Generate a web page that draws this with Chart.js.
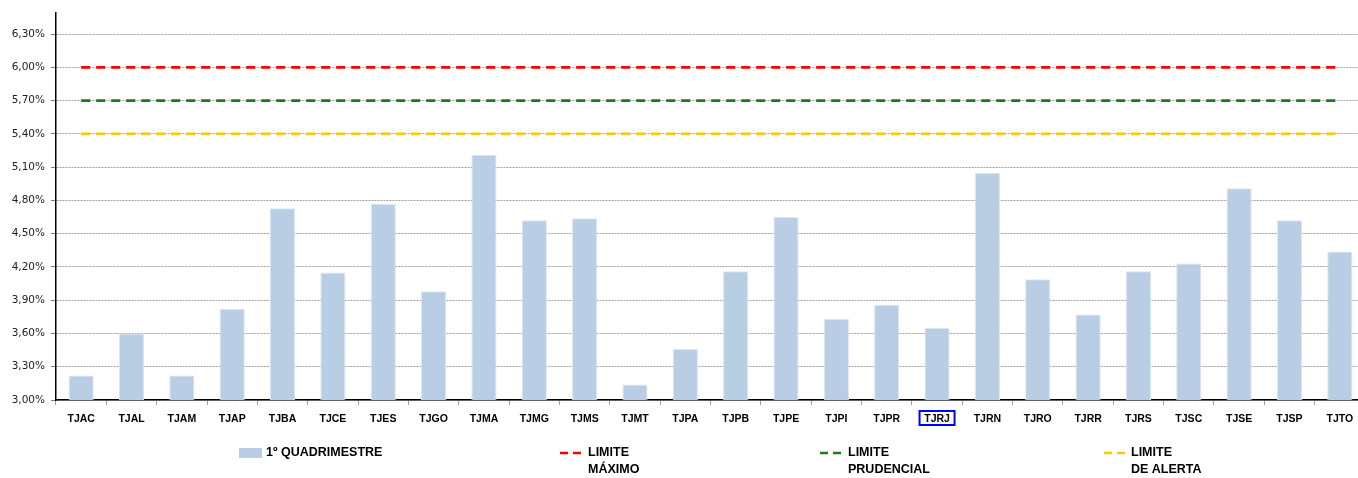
<!DOCTYPE html>
<html>
<head>
<meta charset="utf-8">
<script src="https://cdn.jsdelivr.net/npm/chart.js@4.4.1/dist/chart.umd.min.js"></script>
<style>
  html, body { margin: 0; padding: 0; background: #fff; overflow: hidden; }
  #wrap { position: relative; width: 1366px; height: 478px; }
</style>
</head>
<body>
<div id="wrap"><canvas id="c"></canvas></div>
<script>
const categories = ['TJAC','TJAL','TJAM','TJAP','TJBA','TJCE','TJES','TJGO','TJMA','TJMG','TJMS','TJMT','TJPA','TJPB','TJPE','TJPI','TJPR','TJRJ','TJRN','TJRO','TJRR','TJRS','TJSC','TJSE','TJSP','TJTO'];
const quadrimestre1 = [3.22,3.60,3.22,3.82,4.73,4.15,4.77,3.98,5.21,4.62,4.64,3.14,3.46,4.16,4.65,3.73,3.86,3.65,5.05,4.09,3.77,4.16,4.23,4.91,4.62,4.34];
const limiteMaximo = 6.00;
const limitePrudencial = 5.70;
const limiteAlerta = 5.40;
const yTicks = [3.00,3.30,3.60,3.90,4.20,4.50,4.80,5.10,5.40,5.70,6.00,6.30];
const yMin = 3.00, yMax = 6.49;
const highlighted = 'TJRJ';

const first = categories[0], last = categories[categories.length - 1];

const legendPlugin = {
  id: 'customLegend',
  afterDraw(chart) {
    const ctx = chart.ctx;
    const ds = chart.data.datasets;
    const y = 453;
    const items = [
      { sw: 239, tx: 266 },
      { sw: 560, tx: 588 },
      { sw: 820, tx: 848 },
      { sw: 1104, tx: 1131 }
    ];
    ctx.save();
    ctx.font = 'bold 12.5px "Liberation Sans", Arial, sans-serif';
    ctx.fillStyle = '#000';
    ctx.textBaseline = 'middle';
    ds.forEach((d, i) => {
      const it = items[i];
      if (d.type === 'bar') {
        ctx.fillStyle = d.backgroundColor;
        ctx.fillRect(it.sw, y - 5, 23, 10);
      } else {
        ctx.strokeStyle = d.borderColor;
        ctx.lineWidth = 2.5;
        ctx.setLineDash([8, 5]);
        ctx.beginPath();
        ctx.moveTo(it.sw, y);
        ctx.lineTo(it.sw + 25, y);
        ctx.stroke();
        ctx.setLineDash([]);
      }
      ctx.fillStyle = '#000';
      const lines = Array.isArray(d.label) ? d.label : [d.label];
      lines.forEach((t, k) => ctx.fillText(t, it.tx, y + k * 17));
    });
    // highlighted category box
    const xs = chart.scales.x;
    const idx = categories.indexOf(highlighted);
    if (idx >= 0) {
      const cx = xs.getPixelForValue(idx);
      ctx.strokeStyle = '#0000FF';
      ctx.lineWidth = 2;
      ctx.strokeRect(cx - 17.5, 411, 35, 14);
    }
    ctx.restore();
  }
};

new Chart(document.getElementById('c'), {
  data: {
    labels: categories,
    datasets: [
      {
        type: 'bar',
        label: '1º QUADRIMESTRE',
        data: quadrimestre1,
        backgroundColor: '#B9CDE5',
        borderColor: '#DCE6F2',
        borderWidth: 1,
        barPercentage: 0.5,
        categoryPercentage: 1.0,
        order: 4
      },
      {
        type: 'line',
        label: ['LIMITE', 'MÁXIMO'],
        data: [{x: first, y: limiteMaximo}, {x: last, y: limiteMaximo}],
        borderColor: '#FF0000',
        borderWidth: 2.7,
        borderDash: [9, 6],
        pointRadius: 0,
        fill: false,
        order: 1
      },
      {
        type: 'line',
        label: ['LIMITE', 'PRUDENCIAL'],
        data: [{x: first, y: limitePrudencial}, {x: last, y: limitePrudencial}],
        borderColor: '#1F7A1F',
        borderWidth: 2.7,
        borderDash: [9, 6],
        pointRadius: 0,
        fill: false,
        order: 2
      },
      {
        type: 'line',
        label: ['LIMITE', 'DE ALERTA'],
        data: [{x: first, y: limiteAlerta}, {x: last, y: limiteAlerta}],
        borderColor: '#FFC800',
        borderWidth: 2.7,
        borderDash: [9, 6],
        pointRadius: 0,
        fill: false,
        order: 3
      }
    ]
  },
  options: {
    responsive: true,
    maintainAspectRatio: false,
    animation: false,
    devicePixelRatio: 1,
    layout: { padding: { top: 13, left: 0, right: 1, bottom: 50 } },
    plugins: {
      legend: { display: false },
      tooltip: { enabled: false }
    },
    scales: {
      x: {
        type: 'category',
        offset: true,
        grid: {
          display: true,
          offset: true,
          drawOnChartArea: false,
          drawTicks: true,
          tickLength: 5,
          tickColor: '#A0A0A0'
        },
        border: { display: true, color: '#000', width: 1.5 },
        ticks: {
          color: '#000',
          font: { family: '"Liberation Sans", Arial, sans-serif', size: 10.5, weight: 'bold' },
          padding: 8,
          maxRotation: 0,
          autoSkip: false
        },
        afterFit(scale) { scale.height = 28; scale.paddingLeft = 0; scale.paddingRight = 0; }
      },
      y: {
        type: 'linear',
        min: yMin,
        max: yMax,
        afterBuildTicks(scale) { scale.ticks = yTicks.map(v => ({ value: v })); },
        grid: {
          color: '#A0A0A0',
          lineWidth: 1,
          drawTicks: true,
          tickLength: 5,
          tickColor: '#808080',
          tickBorderDash: []
        },
        border: { display: true, color: '#000', width: 1.5, dash: [2, 1] },
        ticks: {
          color: '#222',
          font: { family: '"DejaVu Sans", Verdana, sans-serif', size: 10.5 },
          padding: 6,
          callback: (v) => v.toFixed(2).replace('.', ',') + '%'
        },
        afterFit(scale) { scale.width = 56; scale.paddingTop = 0; scale.paddingBottom = 0; }
      }
    }
  },
  plugins: [legendPlugin]
});
</script>
</body>
</html>
